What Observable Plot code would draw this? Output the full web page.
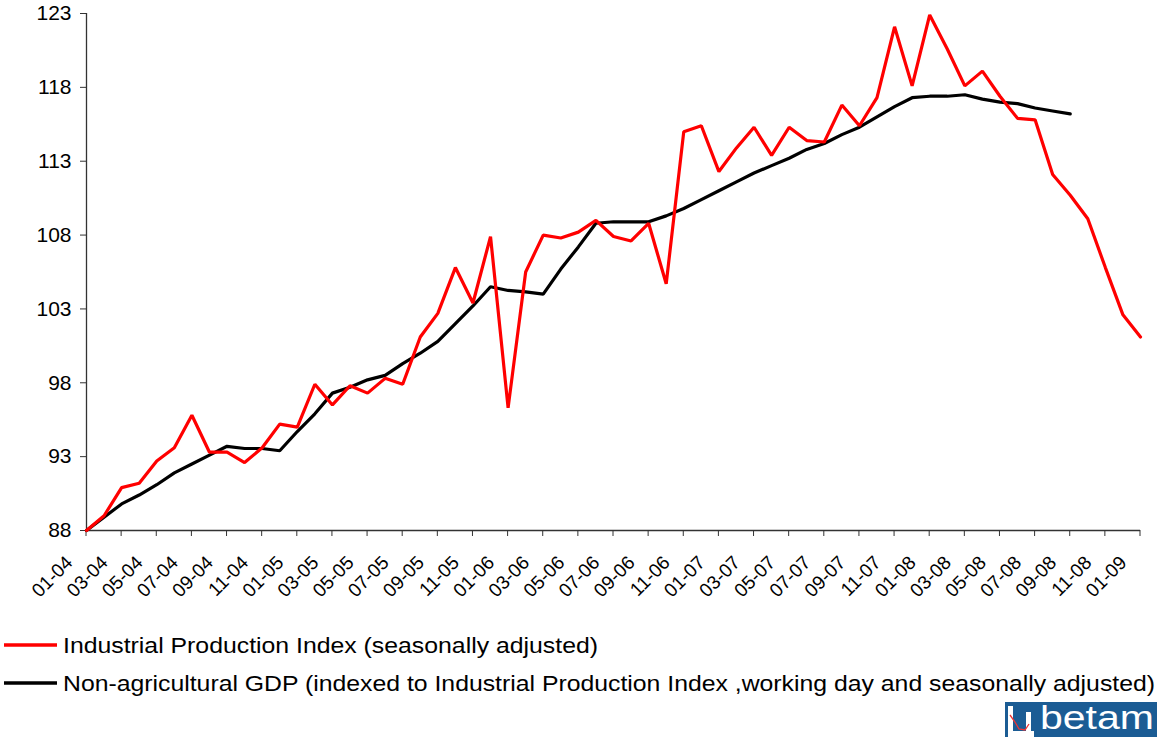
<!DOCTYPE html>
<html><head><meta charset="utf-8">
<script src="https://cdn.jsdelivr.net/npm/d3@7"></script>
<script src="https://cdn.jsdelivr.net/npm/@observablehq/plot@0.6"></script>
<style>
body{margin:0;background:#fff;}
#wrap{position:relative;width:1161px;height:737px;overflow:hidden;background:#fff;font-family:"Liberation Sans",Arial,sans-serif;}
#chart{position:absolute;left:0;top:0;}
#chart svg{display:block;}
#legend{position:absolute;left:0;top:610px;overflow:visible;}
#logo{position:absolute;left:1005px;top:695px;}
</style></head><body>
<div id="wrap">
  <div id="chart"></div>
  <svg id="legend" width="1161" height="95"></svg>
  <svg id="logo" width="156" height="42">
    <g transform="translate(0,7)">
      <rect x="0" y="0" width="152" height="35" fill="#1b5c94"/>
      <rect x="3" y="4" width="5" height="31" fill="#fff"/>
      <rect x="3" y="29" width="26" height="6" fill="#fff"/>
      <rect x="21" y="10" width="5" height="25" fill="#fff"/>
      <polyline points="5,13 10,20 14,27 20,28 24,22" fill="none" stroke="#e33" stroke-width="1.3"/>
      <text id="logotext" x="35" y="27" font-size="34" fill="#fff" font-family="'Liberation Sans', Arial, sans-serif" textLength="114" lengthAdjust="spacingAndGlyphs">betam</text>
    </g>
  </svg>
</div>
<script>
const months = ["01-04","02-04","03-04","04-04","05-04","06-04","07-04","08-04","09-04","10-04","11-04","12-04",
"01-05","02-05","03-05","04-05","05-05","06-05","07-05","08-05","09-05","10-05","11-05","12-05",
"01-06","02-06","03-06","04-06","05-06","06-06","07-06","08-06","09-06","10-06","11-06","12-06",
"01-07","02-07","03-07","04-07","05-07","06-07","07-07","08-07","09-07","10-07","11-07","12-07",
"01-08","02-08","03-08","04-08","05-08","06-08","07-08","08-08","09-08","10-08","11-08","12-08",
"01-09"];

const industrialProduction = [88.0,89.0,90.9,91.2,92.7,93.6,95.8,93.3,93.3,92.6,93.6,95.2,
95.0,97.9,96.5,97.8,97.3,98.3,97.9,101.1,102.7,105.8,103.4,107.9,
96.3,105.5,108.0,107.8,108.2,109.0,107.9,107.6,108.8,104.7,115.0,115.4,
112.3,113.9,115.3,113.4,115.3,114.4,114.3,116.8,115.4,117.3,122.1,118.1,
122.9,120.6,118.1,119.1,117.4,115.9,115.8,112.1,110.7,109.1,105.8,102.6,
101.1];

const nonAgriGDP = [88.0,88.9,89.8,90.4,91.1,91.9,92.5,93.1,93.7,93.55,93.55,93.4,
94.7,95.9,97.3,97.7,98.2,98.5,99.3,100.0,100.8,102.0,103.2,104.5,
104.25,104.15,104.0,105.7,107.2,108.8,108.9,108.9,108.9,109.3,109.8,110.4,
111.0,111.6,112.2,112.7,113.2,113.8,114.2,114.8,115.3,116.0,116.7,117.3,
117.4,117.4,117.5,117.2,117.0,116.9,116.6,116.4,116.2];

const yTicks = [88,93,98,103,108,113,118,123];
const xTickLabels = ["01-04","03-04","05-04","07-04","09-04","11-04","01-05","03-05","05-05","07-05","09-05","11-05",
"01-06","03-06","05-06","07-06","09-06","11-06","01-07","03-07","05-07","07-07","09-07","11-07",
"01-08","03-08","05-08","07-08","09-08","11-08","01-09"];

const seriesNames = ["Industrial Production Index (seasonally adjusted)",
"Non-agricultural GDP (indexed to Industrial Production Index ,working day and seasonally adjusted)"];
const seriesColors = ["#ff0000","#000000"];

const rows = months.map((m,i)=>({month:m, ipi:industrialProduction[i], gdp:nonAgriGDP[i]}));

const chart = Plot.plot({
  width:1161, height:610,
  marginLeft:86, marginRight:21, marginTop:13, marginBottom:80,
  x:{type:"point", domain:months, padding:0},
  y:{domain:[88,123]},
  style:{fontFamily:"'Liberation Sans', Arial, sans-serif", background:"#fff", color:"#000"},
  marks:[
    Plot.ruleX([months[0]], {stroke:"#333", strokeWidth:1.3}),
    Plot.ruleY([88], {stroke:"#333", strokeWidth:1.3}),
    Plot.axisY({ticks:yTicks, tickSize:6, tickPadding:9, fontSize:21, label:null, stroke:"#333"}),
    Plot.axisX({ticks:xTickLabels, tickSize:6, tickPadding:6, tickRotate:-45, fontSize:19, label:null, stroke:"#333", dx:-17, dy:17}),
    Plot.line(rows, {filter:d=>d.gdp!=null, x:"month", y:"gdp", stroke:seriesColors[1], strokeWidth:3.2, strokeLinejoin:"miter"}),
    Plot.line(rows, {x:"month", y:"ipi", stroke:seriesColors[0], strokeWidth:3.2, strokeLinejoin:"miter"})
  ]
});
document.getElementById("chart").appendChild(chart);

// the axis dx/dy shift also moves tick marks; keep tick marks on the axis
d3.select(chart).selectAll("g[aria-label='x-axis tick']").attr("transform", null);

const leg = d3.select("#legend");
const legY = [35, 73];
seriesNames.forEach((name,i)=>{
  leg.append("line").attr("x1",4).attr("x2",57).attr("y1",legY[i]).attr("y2",legY[i])
    .attr("stroke",seriesColors[i]).attr("stroke-width",3.5);
  leg.append("text").attr("x",63).attr("y",legY[i]+7.5)
    .attr("font-family","'Liberation Sans', Arial, sans-serif").attr("font-size",22)
    .attr("textLength", i===0 ? 535 : 1092).attr("lengthAdjust","spacingAndGlyphs")
    .text(name);
});
</script>
</body></html>
